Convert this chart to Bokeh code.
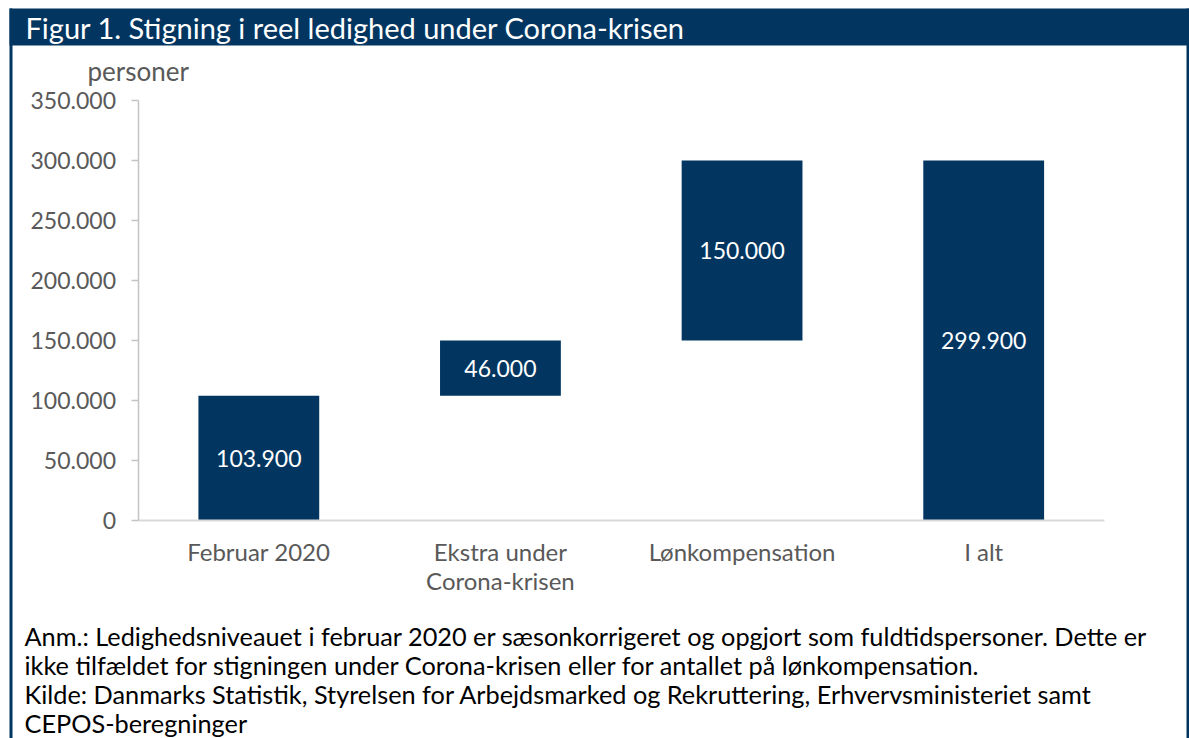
from bokeh.plotting import figure
from bokeh.models import (Range1d, FixedTicker, Label, LabelSet, LinearAxis,
                          BoxAnnotation, ColumnDataSource)
from bokeh.core.properties import value
from bokeh.embed import file_html
from bokeh.resources import INLINE

# ---------------- data ----------------
categories = ["Februar 2020", "Ekstra under\nCorona-krisen", "Lønkompensation", "I alt"]
steps = [103900, 46000, 150000]          # waterfall increments
total = 299900                           # "I alt"
bar_labels = ["103.900", "46.000", "150.000", "299.900"]
y_max = 350000
y_ticks = [0, 50000, 100000, 150000, 200000, 250000, 300000, 350000]
y_tick_labels = ["0", "50.000", "100.000", "150.000", "200.000", "250.000", "300.000", "350.000"]
title_text = "Figur 1. Stigning i reel ledighed under Corona-krisen"
unit_text = "personer"
note_lines = [
    "Anm.: Ledighedsniveauet i februar 2020 er sæsonkorrigeret og opgjort som fuldtidspersoner. Dette er",
    "ikke tilfældet for stigningen under Corona-krisen eller for antallet på lønkompensation.",
    "Kilde: Danmarks Statistik, Styrelsen for Arbejdsmarked og Rekruttering, Erhvervsministeriet samt",
    "CEPOS-beregninger",
]

# waterfall geometry from the data
bottoms, tops = [], []
run = 0
for s in steps:
    bottoms.append(run)
    run += s
    tops.append(run)
bottoms.append(0)
tops.append(total)
mids = [(b + t) / 2 for b, t in zip(bottoms, tops)]
n = len(categories)
xpos = [i + 0.5 for i in range(n)]   # category slot centres on a 0..n axis

NAVY = "#023661"
GRAY = "#595959"
FONT = "Lato"

# ---------------- layout (page pixels) ----------------
W, H = 1189, 738
AX_L, AX_R, AX_T, AX_B = 137.5, 1104, 100, 520   # plot area
slot = (AX_R - AX_L) / n
ppy = y_max / (AX_B - AX_T)
x_range = Range1d(-AX_L / slot, n + (W - AX_R) / slot)
y_range = Range1d(-(H - AX_B) * ppy, y_max + AX_T * ppy)

p = figure(width=W, height=H, x_range=x_range, y_range=y_range,
           x_axis_type=None, y_axis_type=None,
           output_backend="svg", toolbar_location=None,
           min_border=0, min_border_left=0, min_border_right=0,
           min_border_top=0, min_border_bottom=0)
p.extra_x_ranges = {"px": Range1d(0, W)}
p.extra_y_ranges = {"py": Range1d(H, 0)}
p.outline_line_color = None
p.background_fill_color = "white"
p.border_fill_color = "white"

src = ColumnDataSource(dict(x=xpos, bottom=bottoms, top=tops, mid=mids, lab=bar_labels))
p.vbar(x="x", bottom="bottom", top="top", width=0.5, source=src,
       fill_color=NAVY, line_color=None)
p.add_layout(LabelSet(x="x", y="mid", text="lab", source=src, text_color="white",
                      text_font=value(FONT), text_font_size="23px", text_align="center",
                      text_baseline="middle"))

# y axis
yax = LinearAxis(fixed_location=0, bounds=(0, y_max),
                 ticker=FixedTicker(ticks=y_ticks),
                 major_label_overrides=dict(zip(y_ticks, y_tick_labels)),
                 axis_line_color="#c4c4c4", axis_line_width=1.5,
                 major_tick_line_color="#c4c4c4", major_tick_line_width=1.5,
                 major_tick_out=7, major_tick_in=0, minor_tick_line_color=None,
                 major_label_standoff=15, major_label_text_font=FONT,
                 major_label_text_font_size="23px", major_label_text_color=GRAY)
p.add_layout(yax, "left")

# x axis (category names at slot centres)
xax = LinearAxis(fixed_location=0, bounds=(0, n),
                 ticker=FixedTicker(ticks=xpos),
                 major_label_overrides=dict(zip(xpos, categories)),
                 axis_line_color="#d9d9d9", axis_line_width=2,
                 major_tick_line_color=None, major_tick_out=0, major_tick_in=0,
                 minor_tick_line_color=None,
                 major_label_standoff=16, major_label_text_font=FONT,
                 major_label_text_font_size="24px", major_label_text_color=GRAY,
                 major_label_text_line_height=1.0)
p.add_layout(xax, "below")

# frame decorations in page pixels
def box(l, r, t, b):
    p.add_layout(BoxAnnotation(left=l, right=r, top=t, bottom=b,
                               x_range_name="px", y_range_name="py",
                               fill_color=NAVY, fill_alpha=1, line_color=None))

box(9, W, 8, 45)        # title bar
box(9, 12, 8, H)        # left border
box(W - 3, W, 8, H)     # right border

def label(x, y, text, size, color):
    p.add_layout(Label(x=x, y=y, text=text, x_range_name="px", y_range_name="py",
                       text_font=FONT, text_font_size=size, text_color=color,
                       text_align="left", text_baseline="middle"))

label(25, 26.5, title_text, "29px", "white")
label(87, 70, unit_text, "26px", GRAY)
for i, line in enumerate(note_lines):
    label(24, 635 + i * 29, line, "25.3px", "#000000")

open("out.html", "w").write(file_html(p, INLINE))
